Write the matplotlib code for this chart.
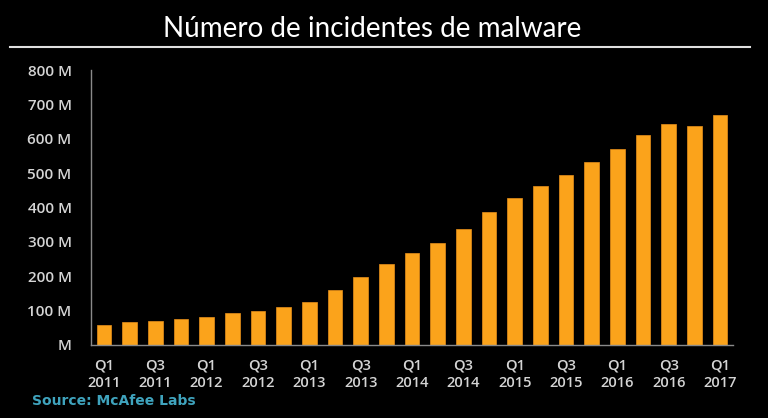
import matplotlib
matplotlib.use("Agg")
import matplotlib.pyplot as plt
from matplotlib.lines import Line2D

quarters = ["Q1\n2011", "Q2\n2011", "Q3\n2011", "Q4\n2011",
            "Q1\n2012", "Q2\n2012", "Q3\n2012", "Q4\n2012",
            "Q1\n2013", "Q2\n2013", "Q3\n2013", "Q4\n2013",
            "Q1\n2014", "Q2\n2014", "Q3\n2014", "Q4\n2014",
            "Q1\n2015", "Q2\n2015", "Q3\n2015", "Q4\n2015",
            "Q1\n2016", "Q2\n2016", "Q3\n2016", "Q4\n2016",
            "Q1\n2017"]
incidents_m = [59, 66, 71, 76, 81, 92, 99, 110, 125, 159, 199, 235, 267,
               297, 337, 387, 428, 462, 495, 533, 569, 611, 644, 637, 668]
y_ticks = [0, 100, 200, 300, 400, 500, 600, 700, 800]
y_tick_labels = ["M", "100 M", "200 M", "300 M", "400 M", "500 M",
                 "600 M", "700 M", "800 M"]
title = "Número de incidentes de malware"
source = "Source: McAfee Labs"

fig = plt.figure(figsize=(7.68, 4.18), dpi=100, facecolor="black")
ax = fig.add_axes([91/768, 73/418, 642/768, 275/418], facecolor="black")

x = list(range(len(quarters)))
ax.bar(x, incidents_m, width=0.57, color="#FBA31B", edgecolor="#E8901A", linewidth=0.5)

ax.set_xlim(-0.5, len(quarters) - 0.5)
ax.set_ylim(0, 800)
ax.set_yticks(y_ticks)
ax.set_yticklabels(y_tick_labels)
ax.set_xticks(x[::2])
ax.set_xticklabels(quarters[::2], linespacing=1.25)

for s in ["top", "right"]:
    ax.spines[s].set_visible(False)
for s in ["left", "bottom"]:
    ax.spines[s].set_color("#8a8a8a")
    ax.spines[s].set_linewidth(1.0)

ax.tick_params(axis="both", length=0, colors="#d4d4d4")
ax.tick_params(axis="y", pad=14, labelsize=11)
ax.tick_params(axis="x", pad=10, labelsize=10.5)
for lab in ax.get_xticklabels() + ax.get_yticklabels():
    lab.set_fontweight("semibold")
    lab.set_family(["Open Sans", "DejaVu Sans"])

fig.text(372/768, 1 - 29/418, title, color="white", fontsize=20,
         ha="center", va="center",
         family=["Lato", "Open Sans", "DejaVu Sans"])
fig.add_artist(Line2D([10/768, 750/768], [1 - 47/418, 1 - 47/418],
                      color="#e0e0e0", linewidth=1.5))

fig.text(32/768, 1 - 401/418, source, color="#3fa3bd", fontsize=10,
         fontweight="bold", ha="left", va="center",
         family=["DejaVu Sans"])

fig.savefig("out.png", dpi=100, facecolor="black")
